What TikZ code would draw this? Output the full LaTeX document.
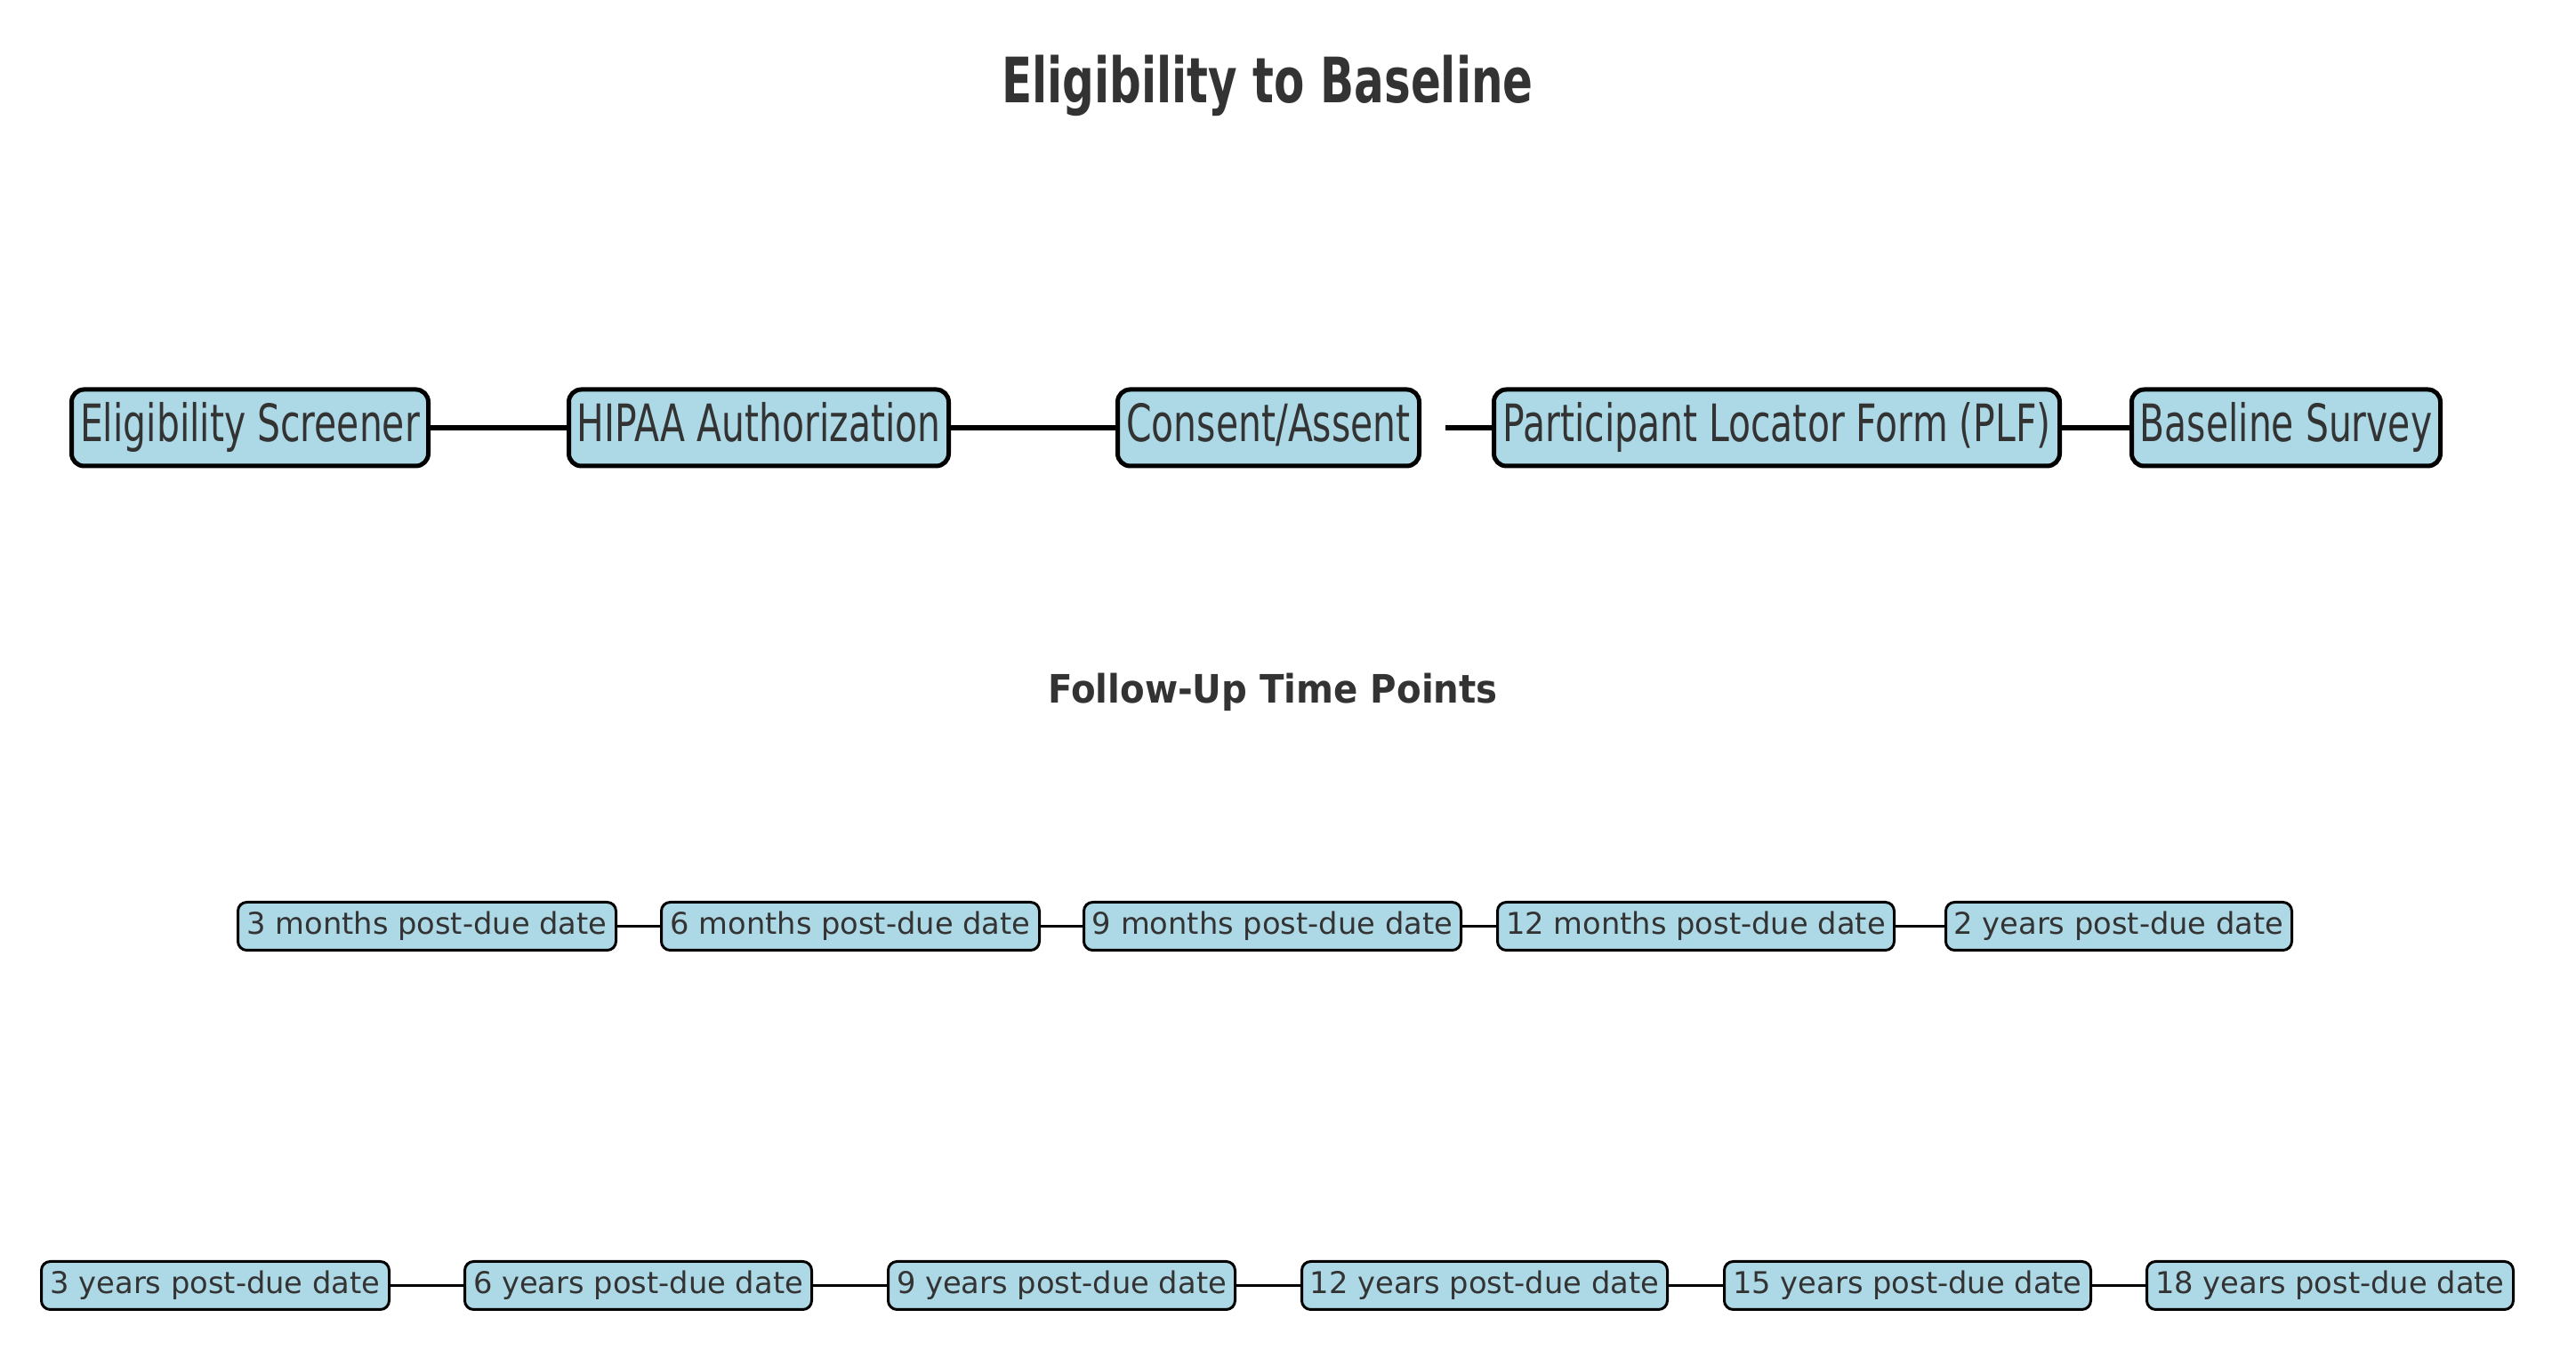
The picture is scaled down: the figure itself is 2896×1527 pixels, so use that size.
\documentclass[tikz,border=0pt]{standalone}
\usepackage{fontspec}
\setmainfont{DejaVu Sans}
\newfontfamily\condfont[FakeStretch=0.705]{DejaVu Sans}
\newfontfamily\titlefont[FakeStretch=0.71]{DejaVu Sans}
\newfontfamily\fufont[FakeStretch=0.915]{DejaVu Sans}
\definecolor{boxblue}{HTML}{ADD8E6}
\definecolor{txtgray}{HTML}{333333}
\begin{document}
\begin{tikzpicture}[x=0.25pt,y=-0.25pt,
  bigbox/.style={draw=black, fill=boxblue, line width=1.25pt, rounded corners=3.5pt,
    inner sep=0pt, minimum height=21.5pt, text=txtgray, text height=11pt, text depth=3pt,
    font=\condfont\fontsize{14.5pt}{17pt}\selectfont},
  smallbox/.style={draw=black, fill=boxblue, line width=0.75pt, rounded corners=2.5pt,
    inner sep=0pt, minimum height=13.5pt, text=txtgray, text height=6.4pt, text depth=1.8pt,
    font=\fontsize{8.43pt}{10pt}\selectfont},
  bigline/.style={line width=1.4pt, draw=black},
  smallline/.style={line width=0.85pt, draw=black}]
\useasboundingbox (0,0) rectangle (2896,1527);
\fill[white] (0,0) rectangle (2896,1527);

\node[anchor=base, text=txtgray, font=\titlefont\bfseries\fontsize{17.6pt}{20pt}\selectfont] (title) at (1425,116) {Eligibility to Baseline};

% top row
\node[bigbox, minimum width=100.25pt] (es) at (281,481) {Eligibility Screener};
\node[bigbox, minimum width=106.75pt] (hipaa) at (853,481) {HIPAA Authorization};
\node[bigbox, minimum width=84.75pt] (cons) at (1426,481) {Consent/Assent};
\node[bigbox, minimum width=159pt] (plf) at (1997.5,481) {Participant Locator Form (PLF)};
\node[bigbox, minimum width=86.75pt] (base) at (2570,481) {Baseline Survey};
\draw[bigline] (es) -- (hipaa);
\draw[bigline] (hipaa) -- (cons);
\draw[bigline, shorten <=6.75pt] (cons) -- (plf);
\draw[bigline] (plf) -- (base);

\node[anchor=base, text=txtgray, font=\fufont\bfseries\fontsize{11pt}{13pt}\selectfont] (fu) at (1431,791) {Follow-Up Time Points};

% middle row
\node[smallbox, minimum width=106.25pt] (m3) at (480,1041.5) {3 months post-due date};
\node[smallbox, minimum width=106.25pt] (m6) at (956,1041.5) {6 months post-due date};
\node[smallbox, minimum width=106pt] (m9) at (1430.5,1041.5) {9 months post-due date};
\node[smallbox, minimum width=111.5pt] (m12) at (1906.5,1041.5) {12 months post-due date};
\node[smallbox, minimum width=97.25pt] (y2) at (2382,1041.5) {2 years post-due date};
\draw[smallline] (m3) -- (m6);
\draw[smallline] (m6) -- (m9);
\draw[smallline] (m9) -- (m12);
\draw[smallline] (m12) -- (y2);

% bottom row
\node[smallbox, minimum width=97.75pt] (y3) at (242,1445.5) {3 years post-due date};
\node[smallbox, minimum width=97.5pt] (y6) at (717.5,1445.5) {6 years post-due date};
\node[smallbox, minimum width=97.5pt] (y9) at (1193.5,1445.5) {9 years post-due date};
\node[smallbox, minimum width=102.75pt] (y12) at (1669,1445.5) {12 years post-due date};
\node[smallbox, minimum width=103pt] (y15) at (2144.5,1445.5) {15 years post-due date};
\node[smallbox, minimum width=103pt] (y18) at (2619.5,1445.5) {18 years post-due date};
\draw[smallline] (y3) -- (y6);
\draw[smallline] (y6) -- (y9);
\draw[smallline] (y9) -- (y12);
\draw[smallline] (y12) -- (y15);
\draw[smallline] (y15) -- (y18);
\end{tikzpicture}
\end{document}
